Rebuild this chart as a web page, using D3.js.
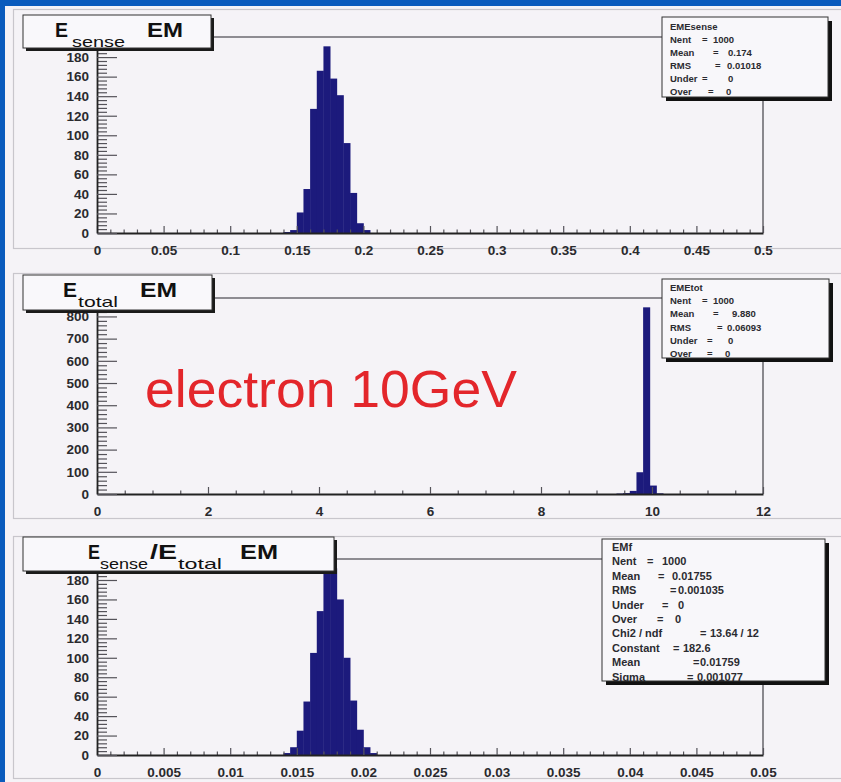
<!DOCTYPE html>
<html><head><meta charset="utf-8">
<script src="https://cdn.jsdelivr.net/npm/d3@7"></script>
<style>body{margin:0;background:#0a5bbd;} svg{display:block;}</style>
</head><body><svg id="c" width="841" height="782"></svg>
<script>
// ---------- DATA ----------
const senseEdges  = [0.140,0.145,0.150,0.155,0.160,0.165,0.170,0.175,0.180,0.185,0.190,0.195,0.200];
const senseCounts = [1,3,21,45,127,166,191,158,141,92,41,10,3];
const senseBinWidth = 0.005;
const senseXTicks  = [0,0.05,0.1,0.15,0.2,0.25,0.3,0.35,0.4,0.45,0.5];
const senseXLabels = ["0","0.05","0.1","0.15","0.2","0.25","0.3","0.35","0.4","0.45","0.5"];
const senseYTicks  = [0,20,40,60,80,100,120,140,160,180];

const totalEdges  = [9.36,9.48,9.60,9.72,9.84,9.96,10.08];
const totalCounts = [2,4,14,98,841,38,3];
const totalBinWidth = 0.12;
const totalXTicks  = [0,2,4,6,8,10,12];
const totalXLabels = ["0","2","4","6","8","10","12"];
const totalYTicks  = [0,100,200,300,400,500,600,700,800];

const ratioEdges  = [0.0140,0.0145,0.0150,0.0155,0.0160,0.0165,0.0170,0.0175,0.0180,0.0185,0.0190,0.0195,0.0200,0.0205];
const ratioCounts = [2,8,25,55,105,148,188,192,160,100,56,26,8,2];
const ratioBinWidth = 0.0005;
const ratioXTicks  = [0,0.005,0.01,0.015,0.02,0.025,0.03,0.035,0.04,0.045,0.05];
const ratioXLabels = ["0","0.005","0.01","0.015","0.02","0.025","0.03","0.035","0.04","0.045","0.05"];
const ratioYTicks  = [0,20,40,60,80,100,120,140,160,180];

const senseStats = [["EMEsense","",""],["Nent","=","1000"],["Mean","=","0.174"],["RMS","=","0.01018"],["Under","=","0"],["Over","=","0"]];
const totalStats = [["EMEtot","",""],["Nent","=","1000"],["Mean","=","9.880"],["RMS","=","0.06093"],["Under","=","0"],["Over","=","0"]];
const ratioStats = [["EMf","",""],["Nent","=","1000"],["Mean","=","0.01755"],["RMS","=","0.001035"],["Under","=","0"],["Over","=","0"],
  ["Chi2 / ndf","=","13.64 / 12"],["Constant","=","182.6"],["Mean","=","0.01759"],["Sigma","=","0.001077"]];

const annotation = "electron 10GeV";

// ---------- LAYOUT ----------
const W = 841, H = 782, L = 97, R = 763;
const FONT = "'Liberation Sans', Arial, Helvetica, sans-serif";
const barColor = "#1c1a7c";

const svg = d3.select("#c");
svg.append("rect").attr("width",W).attr("height",H).attr("fill","#0a5bbd");
svg.append("rect").attr("x",5).attr("y",6).attr("width",W).attr("height",H).attr("fill","#f5f3f7");

const panels = [
  {edges:senseEdges, counts:senseCounts, bw:senseBinWidth, xMax:0.5, xTicks:senseXTicks, xLabels:senseXLabels, xSub:5,
   yTicks:senseYTicks, ySub:5, top:37, bottom:233, pad:[13,9,840,239],
   stats:senseStats, box:{x:662,y:17,w:166,h:80}, fs:9.5, ty:30, lh:13, tx:670,
   cols:[[702,713],[713,728],[715,727],[702,728],[708,726]],
   titleBox:{x:23,y:15,w:188,h:33}, tBase:37,
   title:[{t:"E",x:55,w:13,sub:false},{t:"sense",x:72,w:53,sub:true},{t:"EM",x:147,w:36,sub:false}]},
  {edges:totalEdges, counts:totalCounts, bw:totalBinWidth, xMax:12, xTicks:totalXTicks, xLabels:totalXLabels, xSub:4,
   yTicks:totalYTicks, ySub:5, top:298, bottom:494, pad:[13,273,840,245],
   stats:totalStats, box:{x:662,y:279,w:167,h:79}, fs:9.5, ty:291, lh:13.2, tx:670,
   cols:[[702,713],[713,732],[717,727],[707,728],[707,725]],
   titleBox:{x:23,y:275,w:189,h:35}, tBase:297,
   title:[{t:"E",x:63,w:14,sub:false},{t:"total",x:78,w:40,sub:true},{t:"EM",x:140,w:37,sub:false}]},
  {edges:ratioEdges, counts:ratioCounts, bw:ratioBinWidth, xMax:0.05, xTicks:ratioXTicks, xLabels:ratioXLabels, xSub:5,
   yTicks:ratioYTicks, ySub:5, top:559, bottom:755, pad:[13,536,840,242],
   stats:ratioStats, box:{x:602,y:539,w:223,h:142}, fs:11, ty:551, lh:14.4, tx:612,
   cols:[[647,662],[658,672],[670,678],[662,678],[657,675],[700,710],[673,683],[693,700],[687,697]],
   titleBox:{x:23,y:537,w:311,h:34}, tBase:559,
   title:[{t:"E",x:88,w:12,sub:false},{t:"sense",x:100,w:48,sub:true},{t:"/E",x:150,w:27,sub:false},
          {t:"total",x:178,w:44,sub:true},{t:"EM",x:240,w:38,sub:false}]}
];

panels.forEach((p, pi) => {
  const g = svg.append("g");
  g.append("rect").attr("x",p.pad[0]+0.5).attr("y",p.pad[1]+0.5).attr("width",p.pad[2]).attr("height",p.pad[3])
    .attr("fill","none").attr("stroke","#c8c6cc").attr("stroke-width",1.2);

  const x = d3.scaleLinear().domain([0,p.xMax]).range([L,R]);
  const yTop = d3.max(p.counts)*1.05;
  const y = d3.scaleLinear().domain([0,yTop]).range([p.bottom,p.top]);

  g.append("line").attr("x1",L).attr("x2",R).attr("y1",p.top).attr("y2",p.top).attr("stroke","#8e8c92").attr("stroke-width",2);
  g.append("line").attr("x1",R).attr("x2",R).attr("y1",p.top).attr("y2",p.bottom).attr("stroke","#6e6c72").attr("stroke-width",1.6);

  g.selectAll("rect.bar").data(p.edges.map((e,i)=>({e, c:p.counts[i]}))).join("rect").attr("class","bar")
    .attr("x",d=>x(d.e)).attr("width",d=>x(d.e+p.bw)-x(d.e)+0.4)
    .attr("y",d=>y(d.c)).attr("height",d=>p.bottom-y(d.c))
    .attr("fill",barColor);

  const xMinor = [];
  for (let i=0;i<p.xTicks.length-1;i++){
    const a=p.xTicks[i], b=p.xTicks[i+1];
    for (let k=1;k<p.xSub;k++) xMinor.push(a+(b-a)*k/p.xSub);
  }
  const yMinor = [];
  const ystep = p.yTicks[1]-p.yTicks[0];
  for (let v=0; v<yTop; v+=ystep/p.ySub) if (Math.abs((v/ystep)-Math.round(v/ystep))>1e-6) yMinor.push(v);

  const xAxisMinor = g.append("g").attr("transform",`translate(0,${p.bottom})`)
    .call(d3.axisBottom(x).tickValues(xMinor).tickSize(-3.5).tickSizeOuter(0).tickFormat(""));
  xAxisMinor.select(".domain").remove();
  const yAxisMinor = g.append("g").attr("transform",`translate(${L},0)`)
    .call(d3.axisLeft(y).tickValues(yMinor).tickSize(-10).tickSizeOuter(0).tickFormat(""));
  yAxisMinor.select(".domain").remove();

  const xAxis = g.append("g").attr("transform",`translate(0,${p.bottom})`)
    .call(d3.axisBottom(x).tickValues(p.xTicks).tickSize(-7).tickSizeOuter(0).tickPadding(12)
      .tickFormat((d,i)=>p.xLabels[i]));
  const yAxis = g.append("g").attr("transform",`translate(${L},0)`)
    .call(d3.axisLeft(y).tickValues(p.yTicks).tickSize(-20).tickSizeOuter(0).tickPadding(8));

  [xAxis,yAxis,xAxisMinor,yAxisMinor].forEach(a=>{
    a.selectAll("line").attr("stroke","#55535a").attr("stroke-width",1.2);
    a.selectAll(".domain").attr("stroke","#222").attr("stroke-width",1.8);
    a.selectAll("text").attr("font-family",FONT).attr("font-size",13.5).attr("font-weight","bold").attr("fill","#2a2a2e");
  });

  // title box with shadow
  const tb = p.titleBox;
  g.append("rect").attr("x",tb.x+3).attr("y",tb.y+3).attr("width",tb.w).attr("height",tb.h).attr("fill","#1a1a1a");
  g.append("rect").attr("x",tb.x).attr("y",tb.y).attr("width",tb.w).attr("height",tb.h).attr("fill","#f9f8fb")
    .attr("stroke","#333").attr("stroke-width",1);
  p.title.forEach(s=>{
    g.append("text").attr("x",s.x).attr("y",p.tBase + (s.sub?10:0))
      .attr("font-family",FONT).attr("fill","#111")
      .attr("font-size",s.sub?15:21).attr("font-weight",s.sub?"normal":"bold")
      .attr("textLength",s.w).attr("lengthAdjust","spacingAndGlyphs").text(s.t);
  });

  // stats box
  const b = p.box;
  const clipId = "clip"+pi;
  svg.append("clipPath").attr("id",clipId).append("rect").attr("x",b.x).attr("y",b.y).attr("width",b.w).attr("height",b.h);
  g.append("rect").attr("x",b.x+4).attr("y",b.y+4).attr("width",b.w).attr("height",b.h).attr("fill","#111");
  g.append("rect").attr("x",b.x).attr("y",b.y).attr("width",b.w).attr("height",b.h).attr("fill","#f8f7fa")
    .attr("stroke","#333").attr("stroke-width",1);
  const sg = g.append("g").attr("clip-path",`url(#${clipId})`)
    .attr("font-family",FONT).attr("font-size",p.fs).attr("font-weight","bold").attr("fill","#2b2b30");
  p.stats.forEach((row,i)=>{
    const yy = p.ty + i*p.lh;
    sg.append("text").attr("x",p.tx).attr("y",yy).text(row[0]);
    if (i>0){
      const c = p.cols[i-1];
      sg.append("text").attr("x",c[0]).attr("y",yy).text(row[1]);
      sg.append("text").attr("x",c[1]).attr("y",yy).text(row[2]);
    }
  });
});

svg.append("text").attr("x",145).attr("y",407).attr("font-family",FONT).attr("font-size",52)
  .attr("textLength",372).attr("lengthAdjust","spacingAndGlyphs")
  .attr("fill","#e3262b").text(annotation);
</script></body></html>
